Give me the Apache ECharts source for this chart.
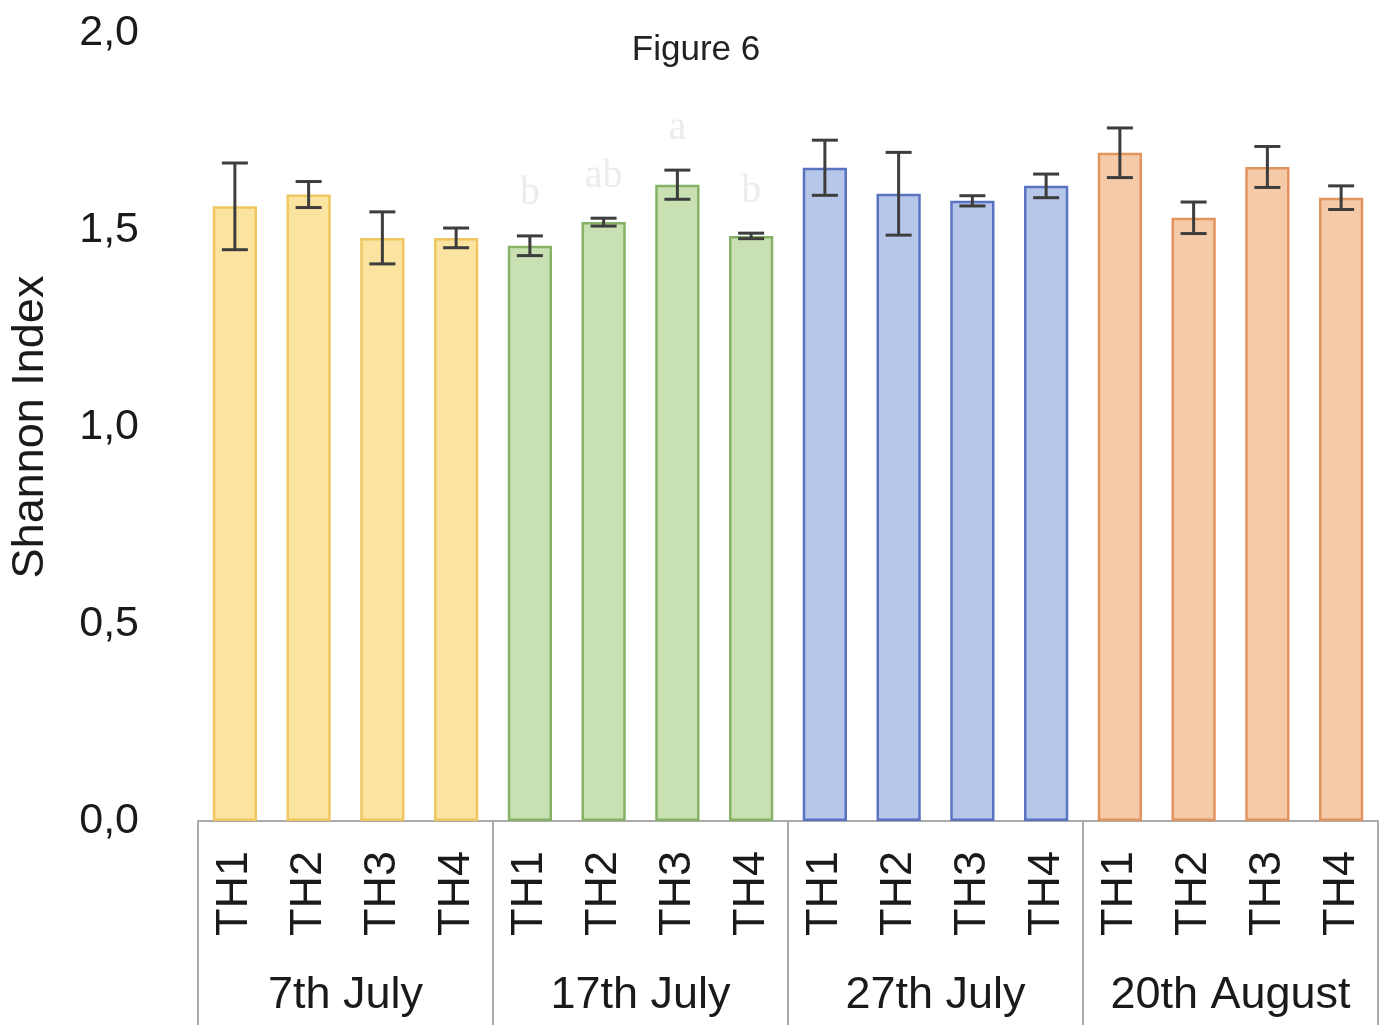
<!DOCTYPE html>
<html>
<head>
<meta charset="utf-8">
<script src="https://cdn.jsdelivr.net/npm/echarts@6/dist/echarts.min.js"></script>
<style>html,body{margin:0;padding:0;background:#fff;}#c{width:1392px;height:1025px;}</style>
</head>
<body>
<div id="c"></div>
<script>
const groups = ['7th July', '17th July', '27th July', '20th August'];
const treatments = ['TH1', 'TH2', 'TH3', 'TH4'];
const means7Jul = [1.56, 1.59, 1.48, 1.48];
const err7Jul = [0.11, 0.033, 0.066, 0.025];
const means17Jul = [1.46, 1.52, 1.615, 1.485];
const err17Jul = [0.025, 0.01, 0.037, 0.007];
const means27Jul = [1.658, 1.592, 1.574, 1.612];
const err27Jul = [0.07, 0.105, 0.013, 0.03];
const means20Aug = [1.696, 1.531, 1.66, 1.582];
const err20Aug = [0.063, 0.04, 0.052, 0.03];
const letters17Jul = ['b', 'ab', 'a', 'b'];
const yTicks = ['0,0', '0,5', '1,0', '1,5', '2,0'];

const fills = ['#fbe3a0', '#c9e0b3', '#b6c7ea', '#f5caa8'];
const borders = ['#f0c660', '#86b266', '#5a74c2', '#e3945e'];

const allMeans = [means7Jul, means17Jul, means27Jul, means20Aug];
const allErr = [err7Jul, err17Jul, err27Jul, err20Aug];
const allLetters = [null, letters17Jul, null, null];

const cats = [];
const barData = [];
const errData = [];
groups.forEach((g, gi) => {
  treatments.forEach((t, ti) => {
    const idx = cats.length;
    cats.push(t);
    barData.push({
      value: allMeans[gi][ti],
      itemStyle: { color: fills[gi], borderColor: borders[gi], borderWidth: 2.5 }
    });
    errData.push([idx, allMeans[gi][ti], allErr[gi][ti], allLetters[gi] ? allLetters[gi][ti] : '']);
  });
});

const chart = echarts.init(document.getElementById('c'));
const FONT = 'Liberation Sans, Arial, sans-serif';
chart.setOption({
  animation: false,
  backgroundColor: '#ffffff',
  title: {
    text: 'Figure 6', left: 'center', top: 28,
    textStyle: { fontFamily: FONT, fontSize: 35, fontWeight: 'normal', color: '#222' }
  },
  grid: { left: 197, right: 14, top: 33, bottom: 204 },
  xAxis: [
    {
      type: 'category', data: cats, position: 'bottom',
      axisLine: { show: true, lineStyle: { color: '#aaaaaa', width: 2 } },
      axisTick: { show: false },
      axisLabel: {
        interval: 0, rotate: 90, margin: 30,
        fontFamily: FONT, fontSize: 45, color: '#1a1a1a'
      }
    },
    {
      type: 'category', data: groups, position: 'bottom',
      axisLine: { show: true, lineStyle: { color: '#aaaaaa', width: 2 } },
      axisTick: { show: true, length: 210, lineStyle: { color: '#aaaaaa', width: 2 } },
      axisLabel: {
        interval: 0, margin: 152,
        fontFamily: FONT, fontSize: 45, color: '#1a1a1a'
      }
    }
  ],
  yAxis: {
    type: 'value', min: 0, max: 2, interval: 0.5,
    name: 'Shannon Index', nameLocation: 'middle', nameGap: 145,
    nameTextStyle: { fontFamily: FONT, fontSize: 45, color: '#1a1a1a' },
    axisLine: { show: false }, axisTick: { show: false }, splitLine: { show: false },
    axisLabel: {
      margin: 59, fontFamily: FONT, fontSize: 43, color: '#1a1a1a',
      formatter: v => yTicks[Math.round(v / 0.5)]
    }
  },
  series: [
    {
      type: 'bar', data: barData, barWidth: '60%', xAxisIndex: 0
    },
    {
      type: 'custom', xAxisIndex: 0, data: errData, z: 10,
      renderItem: (params, api) => {
        const x = api.value(0), m = api.value(1), e = api.value(2);
        const top = api.coord([x, m + e]);
        const bot = api.coord([x, m - e]);
        const hw = 13;
        const st = { stroke: '#3d3d3d', lineWidth: 3 };
        const children = [
          { type: 'line', shape: { x1: top[0], y1: top[1], x2: bot[0], y2: bot[1] }, style: st },
          { type: 'line', shape: { x1: top[0] - hw, y1: top[1], x2: top[0] + hw, y2: top[1] }, style: st },
          { type: 'line', shape: { x1: bot[0] - hw, y1: bot[1], x2: bot[0] + hw, y2: bot[1] }, style: st }
        ];
        const letter = errData[params.dataIndex][3];
        if (letter) {
          children.push({
            type: 'text',
            style: {
              text: letter, x: top[0], y: top[1] - 22, align: 'center', verticalAlign: 'bottom',
              fontFamily: 'Liberation Serif, serif', fontSize: 40, fill: '#ececec'
            }
          });
        }
        return { type: 'group', children };
      }
    }
  ]
});
</script>
</body>
</html>
